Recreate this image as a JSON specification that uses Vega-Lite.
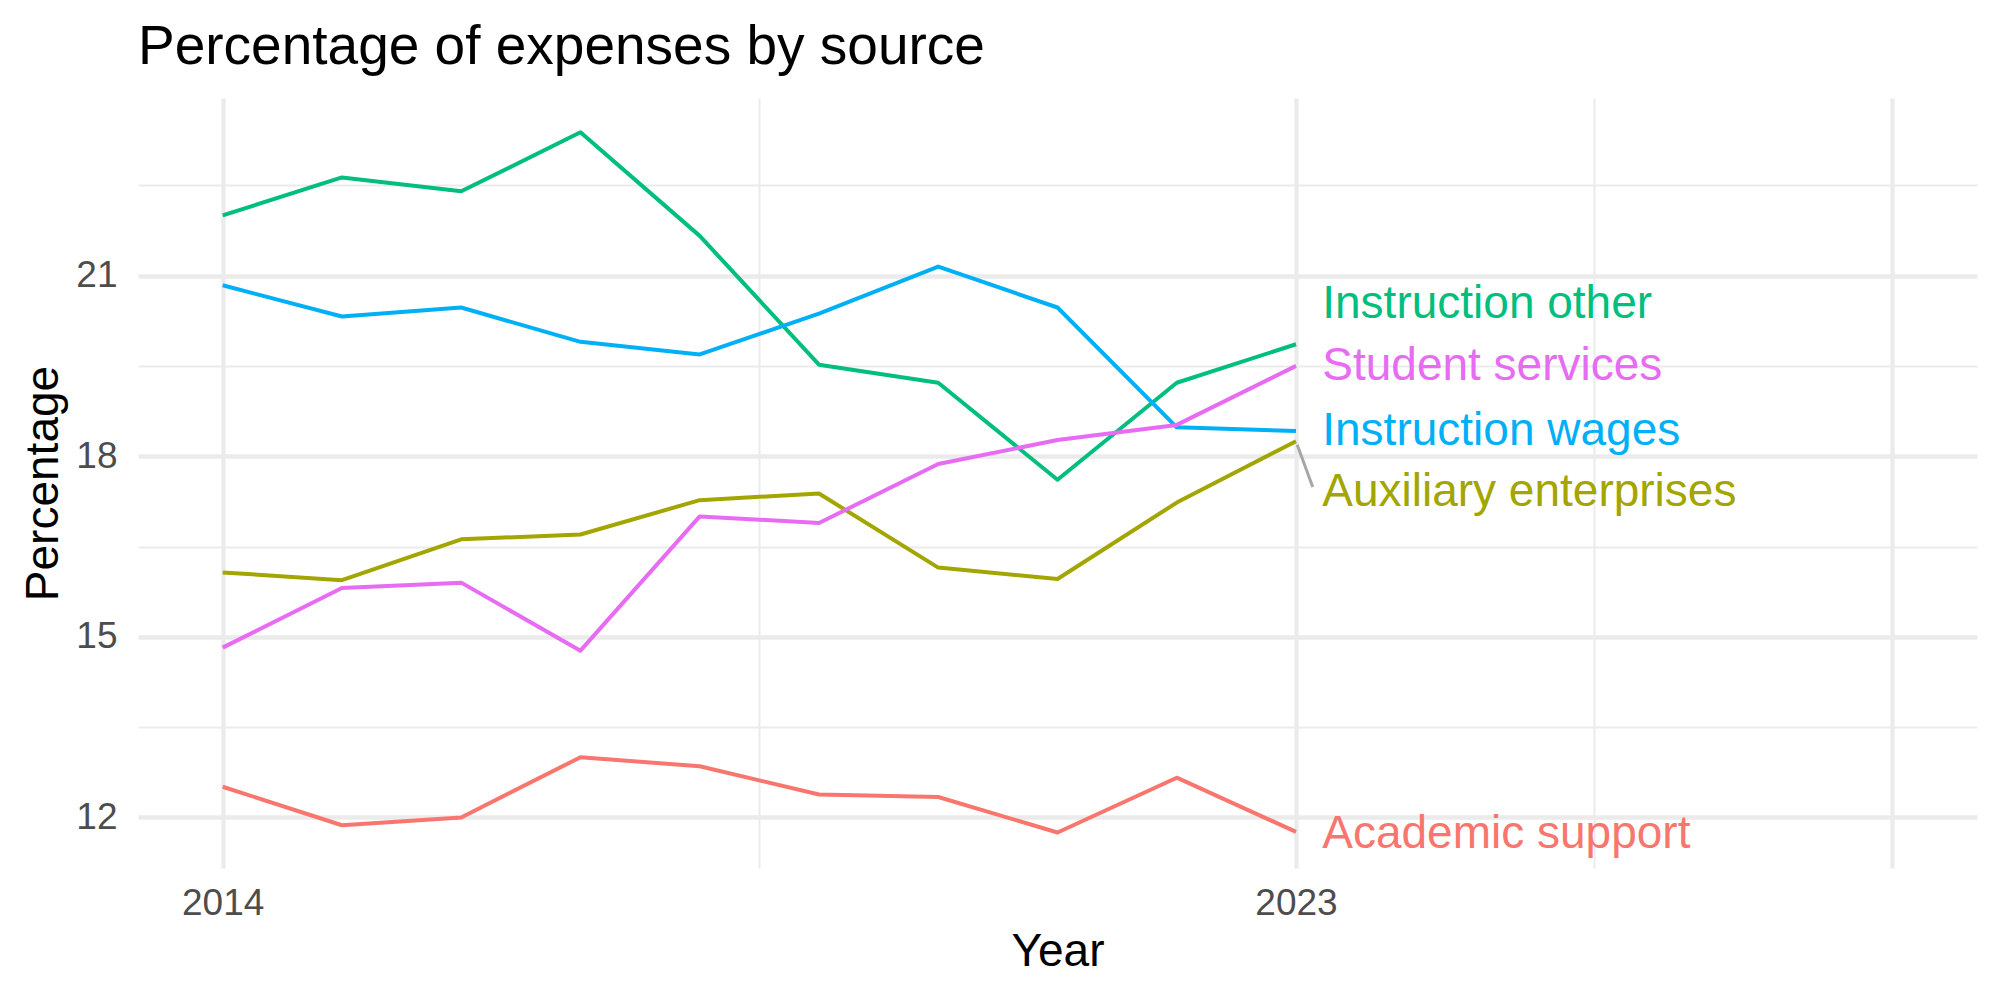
{
  "$schema": "https://vega.github.io/schema/vega-lite/v6.json",
  "width": 1839,
  "height": 770,
  "autosize": {"type": "none"},
  "padding": {"left": 138, "top": 98, "right": 23, "bottom": 132},
  "background": "white",
  "title": {
    "text": "Percentage of expenses by source",
    "anchor": "start",
    "frame": "group",
    "font": "Liberation Sans",
    "fontSize": 55,
    "fontWeight": "normal",
    "color": "#000000",
    "baseline": "alphabetic",
    "offset": -21
  },
  "config": {
    "view": {"stroke": null},
    "font": "Liberation Sans",
    "axis": {
      "domain": false,
      "ticks": false,
      "tickSize": 0,
      "gridColor": "#EBEBEB",
      "labelFont": "Liberation Sans",
      "labelFontSize": 37,
      "labelColor": "#4D4D4D",
      "titleFont": "Liberation Sans",
      "titleFontSize": 46,
      "titleFontWeight": "normal",
      "titleColor": "#000000"
    }
  },
  "datasets": {
    "expenses": [
      {"series": "Academic support", "year": 2014, "value": 12.51},
      {"series": "Academic support", "year": 2015, "value": 11.87},
      {"series": "Academic support", "year": 2016, "value": 12.0},
      {"series": "Academic support", "year": 2017, "value": 13.0},
      {"series": "Academic support", "year": 2018, "value": 12.85},
      {"series": "Academic support", "year": 2019, "value": 12.38},
      {"series": "Academic support", "year": 2020, "value": 12.34},
      {"series": "Academic support", "year": 2021, "value": 11.75},
      {"series": "Academic support", "year": 2022, "value": 12.66},
      {"series": "Academic support", "year": 2023, "value": 11.76},
      {"series": "Auxiliary enterprises", "year": 2014, "value": 16.07},
      {"series": "Auxiliary enterprises", "year": 2015, "value": 15.94},
      {"series": "Auxiliary enterprises", "year": 2016, "value": 16.62},
      {"series": "Auxiliary enterprises", "year": 2017, "value": 16.7},
      {"series": "Auxiliary enterprises", "year": 2018, "value": 17.27},
      {"series": "Auxiliary enterprises", "year": 2019, "value": 17.38},
      {"series": "Auxiliary enterprises", "year": 2020, "value": 16.15},
      {"series": "Auxiliary enterprises", "year": 2021, "value": 15.96},
      {"series": "Auxiliary enterprises", "year": 2022, "value": 17.23},
      {"series": "Auxiliary enterprises", "year": 2023, "value": 18.25},
      {"series": "Instruction other", "year": 2014, "value": 22.0},
      {"series": "Instruction other", "year": 2015, "value": 22.63},
      {"series": "Instruction other", "year": 2016, "value": 22.4},
      {"series": "Instruction other", "year": 2017, "value": 23.38},
      {"series": "Instruction other", "year": 2018, "value": 21.66},
      {"series": "Instruction other", "year": 2019, "value": 19.52},
      {"series": "Instruction other", "year": 2020, "value": 19.22},
      {"series": "Instruction other", "year": 2021, "value": 17.61},
      {"series": "Instruction other", "year": 2022, "value": 19.22},
      {"series": "Instruction other", "year": 2023, "value": 19.86},
      {"series": "Instruction wages", "year": 2014, "value": 20.84},
      {"series": "Instruction wages", "year": 2015, "value": 20.32},
      {"series": "Instruction wages", "year": 2016, "value": 20.47},
      {"series": "Instruction wages", "year": 2017, "value": 19.9},
      {"series": "Instruction wages", "year": 2018, "value": 19.69},
      {"series": "Instruction wages", "year": 2019, "value": 20.37},
      {"series": "Instruction wages", "year": 2020, "value": 21.15},
      {"series": "Instruction wages", "year": 2021, "value": 20.47},
      {"series": "Instruction wages", "year": 2022, "value": 18.48},
      {"series": "Instruction wages", "year": 2023, "value": 18.42},
      {"series": "Student services", "year": 2014, "value": 14.82},
      {"series": "Student services", "year": 2015, "value": 15.81},
      {"series": "Student services", "year": 2016, "value": 15.9},
      {"series": "Student services", "year": 2017, "value": 14.77},
      {"series": "Student services", "year": 2018, "value": 17.0},
      {"series": "Student services", "year": 2019, "value": 16.89},
      {"series": "Student services", "year": 2020, "value": 17.87},
      {"series": "Student services", "year": 2021, "value": 18.27},
      {"series": "Student services", "year": 2022, "value": 18.52},
      {"series": "Student services", "year": 2023, "value": 19.5}
    ],
    "endLabels": [
      {"series": "Instruction other", "year": 2023.22, "value": 20.53},
      {"series": "Student services", "year": 2023.22, "value": 19.5},
      {"series": "Instruction wages", "year": 2023.22, "value": 18.42},
      {"series": "Auxiliary enterprises", "year": 2023.22, "value": 17.4},
      {"series": "Academic support", "year": 2023.22, "value": 11.73}
    ],
    "leaders": [
      {"series": "Auxiliary enterprises", "year": 2023.01, "value": 18.19, "year2": 2023.14, "value2": 17.49}
    ]
  },
  "resolve": {"axis": {"x": "independent", "y": "independent"}},
  "layer": [
    {
      "data": {"name": "expenses"},
      "mark": {"type": "line", "strokeWidth": 4, "strokeJoin": "round"},
      "encoding": {
        "x": {
          "field": "year",
          "type": "quantitative",
          "scale": {"domain": [2013.29, 2028.71], "nice": false, "zero": false},
          "axis": {
            "values": [2014, 2023, 2028],
            "format": "d",
            "labelExpr": "datum.value == 2028 ? '' : datum.label",
            "grid": true,
            "gridWidth": 4.3,
            "labelPadding": 17,
            "labelFlush": false,
            "title": "Year",
            "titlePadding": 8
          }
        },
        "y": {
          "field": "value",
          "type": "quantitative",
          "scale": {"domain": [11.16, 23.95], "nice": false, "zero": false},
          "axis": {
            "values": [12, 15, 18, 21],
            "grid": true,
            "gridWidth": 4.3,
            "labelPadding": 21,
            "title": "Percentage",
            "titlePadding": 8
          }
        },
        "color": {
          "field": "series",
          "type": "nominal",
          "scale": {
            "domain": ["Academic support", "Auxiliary enterprises", "Instruction other", "Instruction wages", "Student services"],
            "range": ["#F8766D", "#A3A500", "#00BF7D", "#00B0F6", "#E76BF3"]
          },
          "legend": null
        }
      }
    },
    {
      "data": {"name": "leaders"},
      "mark": {"type": "rule", "color": "#A6A6A6", "strokeWidth": 3},
      "encoding": {
        "x": {
          "field": "year",
          "type": "quantitative",
          "axis": {
            "orient": "top",
            "values": [2018.5, 2025.5],
            "grid": true,
            "gridWidth": 2,
            "labels": false,
            "title": null
          }
        },
        "y": {
          "field": "value",
          "type": "quantitative",
          "axis": {
            "orient": "right",
            "values": [13.5, 16.5, 19.5, 22.5],
            "grid": true,
            "gridWidth": 2,
            "labels": false,
            "title": null
          }
        },
        "x2": {"field": "year2"},
        "y2": {"field": "value2"}
      }
    },
    {
      "data": {"name": "endLabels"},
      "mark": {"type": "text", "align": "left", "baseline": "middle", "fontSize": 46, "font": "Liberation Sans"},
      "encoding": {
        "x": {"field": "year", "type": "quantitative", "axis": null},
        "y": {"field": "value", "type": "quantitative", "axis": null},
        "text": {"field": "series"},
        "color": {"field": "series", "type": "nominal", "legend": null}
      }
    }
  ]
}
